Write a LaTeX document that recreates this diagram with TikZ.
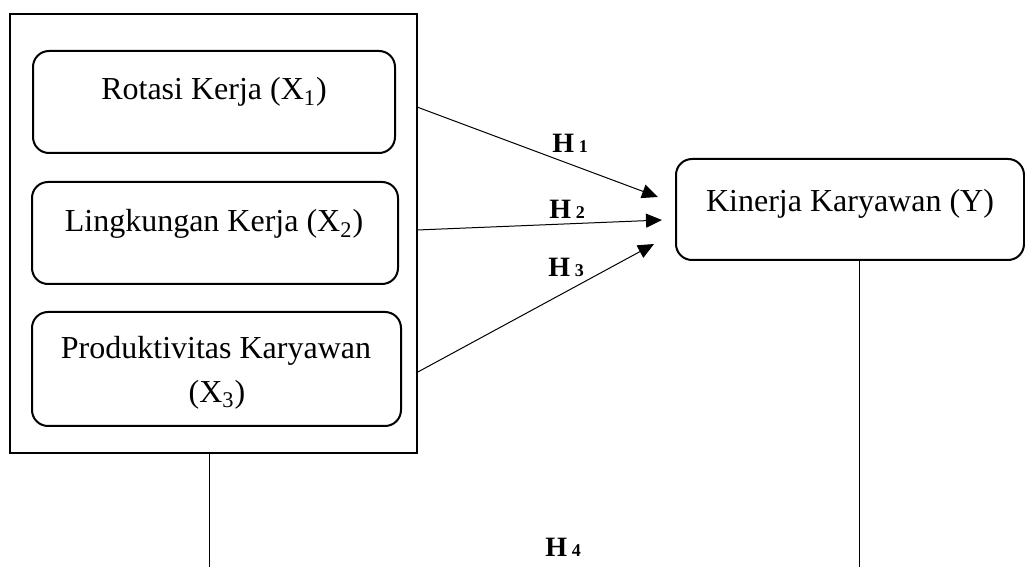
\documentclass[tikz,border=0pt]{standalone}
\usepackage{fontspec}
\setmainfont{Liberation Serif}
\usetikzlibrary{arrows.meta}
\begin{document}
\begin{tikzpicture}[x=0.5pt,y=-0.5pt,
  outerbox/.style={draw,line width=1pt},
  varbox/.style={draw,line width=1pt,rounded corners=8pt},
  boxtext/.style={inner sep=0pt,anchor=base,font=\fontsize{16}{20}\selectfont},
  hlabel/.style={inner sep=0pt,anchor=base west,font=\fontsize{14}{16}\selectfont\bfseries},
  link/.style={line width=0.5pt},
  arrowlink/.style={line width=0.5pt,-{Triangle[length=8pt,width=7pt]}}]
\useasboundingbox (0,0) rectangle (1025,567);
% outer box
\draw[outerbox] (10,14) rectangle (417,453);
\coordinate (ob1) at (417,107);
\coordinate (ob2) at (417,230);
\coordinate (ob3) at (416,373);
\coordinate (obb) at (209,453);
% inner boxes
\draw[varbox] (33,51) rectangle (395,153);
\node[boxtext] (x1) at (214,100) {Rotasi Kerja (X\textsubscript{1})};
\draw[varbox] (32,182) rectangle (398,284);
\node[boxtext] (x2) at (214,232) {Lingkungan Kerja (X\textsubscript{2})};
\draw[varbox] (32,312) rectangle (401,426);
\node[boxtext] (x3a) at (216,358) {Produktivitas Karyawan};
\node[boxtext] (x3b) at (217,402) {(X\textsubscript{3})};
% Y box
\node[draw,line width=1pt,rounded corners=8pt,minimum width=348pt*0.5,minimum height=101pt*0.5,inner sep=0pt,anchor=north west] (ybox) at (675,158) {};
\node[boxtext] (y) at (850,212) {Kinerja Karyawan (Y)};
\coordinate (yt1) at (658,197);
\coordinate (yt2) at (662,220);
\coordinate (yt3) at (654,244);
\coordinate (ybb) at (859,260);
% arrows
\draw[arrowlink] (ob1) -- (yt1);
\draw[arrowlink] (ob2) -- (yt2);
\draw[arrowlink] (ob3) -- (yt3);
% labels
\node[hlabel] (h1) at (552,153) {H\,{\fontsize{9}{9}\selectfont 1}};
\node[hlabel] (h2) at (549,219) {H\,{\fontsize{9}{9}\selectfont 2}};
\node[hlabel] (h3) at (548,277) {H\,{\fontsize{9}{9}\selectfont 3}};
\node[hlabel] (h4) at (545,556) {H\,{\fontsize{9}{9}\selectfont 4}};
% bottom lines
\coordinate (lb) at (209,567);
\coordinate (rb) at (859,567);
\draw[link] (obb) -- (lb);
\draw[link] (ybb) -- (rb);
\end{tikzpicture}
\end{document}
